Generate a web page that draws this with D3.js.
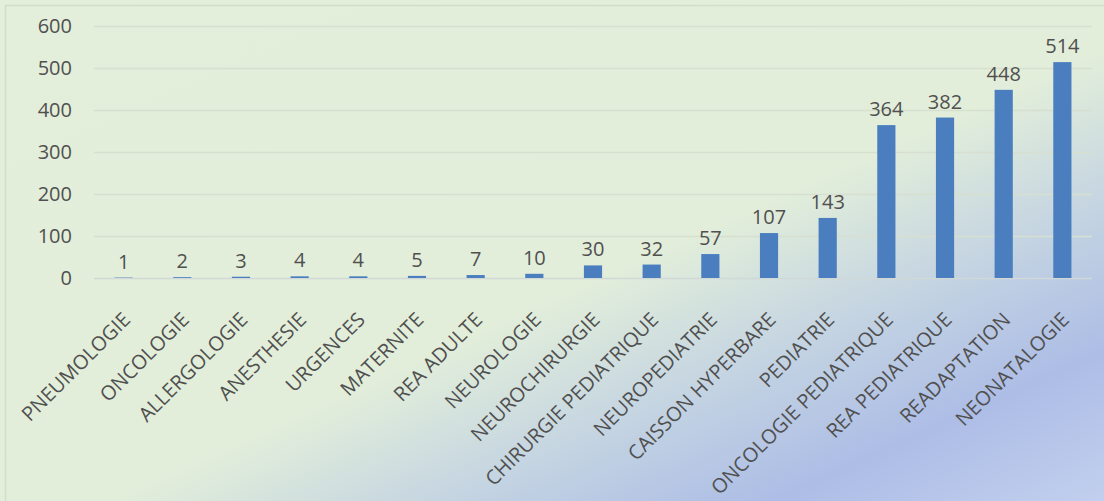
<!DOCTYPE html>
<html>
<head>
<meta charset="utf-8">
<script src="https://cdn.jsdelivr.net/npm/d3@7"></script>
<style>
  body { margin: 0; overflow: hidden; }
  svg { display: block; }
  text { font-family: "Open Sans", sans-serif; fill: #505050; }
</style>
</head>
<body>
<div id="chart"></div>
<script>
// services and patient counts
const services = ['PNEUMOLOGIE', 'ONCOLOGIE', 'ALLERGOLOGIE', 'ANESTHESIE', 'URGENCES',
    'MATERNITE', 'REA ADULTE', 'NEUROLOGIE', 'NEUROCHIRURGIE', 'CHIRURGIE PEDIATRIQUE',
    'NEUROPEDIATRIE', 'CAISSON HYPERBARE', 'PEDIATRIE', 'ONCOLOGIE PEDIATRIQUE',
    'REA PEDIATRIQUE', 'READAPTATION', 'NEONATALOGIE'];
const counts = [1, 2, 3, 4, 4, 5, 7, 10, 30, 32, 57, 107, 143, 364, 382, 448, 514];
const yTicks = [0, 100, 200, 300, 400, 500, 600];

function init() {
    const width = 1104;
    const height = 501;
    const margin = { top: 26, right: 12, bottom: 223, left: 94 };

    const svg = d3.select('#chart')
        .append('svg')
        .attr('width', width)
        .attr('height', height);

    // background gradient green -> blue
    const defs = svg.append('defs');
    const grad = defs.append('linearGradient')
        .attr('id', 'bg')
        .attr('x1', '0').attr('y1', '0')
        .attr('x2', '1').attr('y2', '1');
    grad.append('stop').attr('offset', '0%').attr('stop-color', '#e3efda');
    grad.append('stop').attr('offset', '55%').attr('stop-color', '#e2eeda');
    grad.append('stop').attr('offset', '71%').attr('stop-color', '#c3d3e2');
    grad.append('stop').attr('offset', '85%').attr('stop-color', '#adbde6');
    grad.append('stop').attr('offset', '100%').attr('stop-color', '#c2cfee');

    svg.append('rect')
        .attr('width', width)
        .attr('height', height)
        .attr('fill', 'url(#bg)');

    // chart area border (cropped on right and bottom)
    svg.append('rect')
        .attr('x', 5.5).attr('y', 5.5)
        .attr('width', width + 10).attr('height', height + 10)
        .attr('fill', 'none')
        .attr('stroke', '#d4dccc')
        .attr('stroke-width', 1.5);

    const x = d3.scaleBand()
        .domain(services)
        .range([margin.left, width - margin.right])
        .paddingInner(0.69)
        .paddingOuter(0.35);

    const y = d3.scaleLinear()
        .domain([0, 600])
        .range([height - margin.bottom, margin.top]);

    // gridlines
    svg.append('g')
        .selectAll('line')
        .data(yTicks)
        .enter().append('line')
        .attr('x1', margin.left)
        .attr('x2', width - margin.right)
        .attr('y1', d => Math.round(y(d)) + 0.5)
        .attr('y2', d => Math.round(y(d)) + 0.5)
        .attr('stroke', d => d === 0 ? '#d0d8d8' : '#d6dfd0')
        .attr('stroke-width', 1.3);

    // y axis labels
    const yAxis = d3.axisLeft(y).tickValues(yTicks).tickSize(0).tickPadding(0);
    const ya = svg.append('g')
        .attr('transform', 'translate(72,0)')
        .call(yAxis);
    ya.select('.domain').remove();
    ya.selectAll('text')
        .style('font-size', '20px')
        .attr('font-family', null)
        .attr('fill', '#505050');

    // bars
    svg.append('g')
        .selectAll('rect')
        .data(counts)
        .enter().append('rect')
        .attr('x', (d, i) => x(services[i]))
        .attr('width', x.bandwidth())
        .attr('y', d => y(d))
        .attr('height', d => y(0) - y(d))
        .attr('fill', '#4a7ebf');

    // value labels
    svg.append('g')
        .selectAll('text')
        .data(counts)
        .enter().append('text')
        .attr('x', (d, i) => x(services[i]) + x.bandwidth() / 2)
        .attr('y', d => y(d) - 9)
        .attr('text-anchor', 'middle')
        .style('font-size', '20px')
        .text(d => d);

    // rotated category labels
    const xa = svg.append('g')
        .attr('transform', `translate(0,${y(0)})`)
        .call(d3.axisBottom(x).tickSize(0).tickPadding(0));
    xa.select('.domain').remove();
    xa.selectAll('text')
        .attr('font-family', null)
        .attr('fill', '#505050')
        .style('font-size', '20px')
        .attr('text-anchor', 'end')
        .attr('dy', null)
        .attr('y', 0)
        .attr('transform', 'translate(8,43) rotate(-45)');
}

window.onload = init;
</script>
</body>
</html>
